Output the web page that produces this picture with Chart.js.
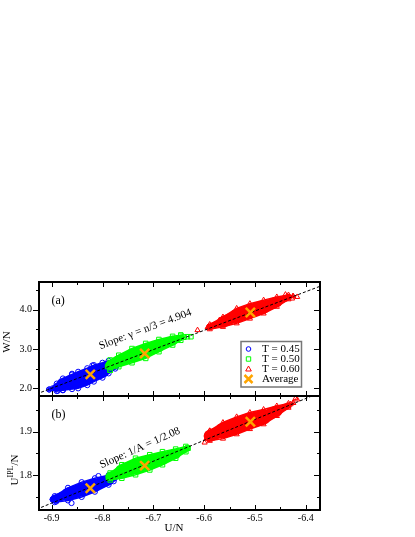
<!DOCTYPE html>
<html>
<head>
<meta charset="utf-8">
<script src="https://cdn.jsdelivr.net/npm/chart.js@4.4.1/dist/chart.umd.min.js"></script>
<style>
  html, body { margin: 0; padding: 0; background: #fff; }
  #wrap { position: relative; width: 415px; height: 537px; overflow: hidden; }
  #chart { position: absolute; left: 0; top: 0; background: #fff; }
</style>
</head>
<body>
<div id="wrap">
  <canvas id="chart" width="415" height="537"></canvas>
</div>
<script>
// axes
const xRange = [-6.925, -6.372];
const xTicks = [-6.9, -6.8, -6.7, -6.6, -6.5, -6.4];
const xMinor = [-6.85, -6.75, -6.65, -6.55, -6.45];
const wRange = [1.805, 4.70];
const wTicks = [2.0, 3.0, 4.0];
const wMinor = [2.5, 3.5, 4.5];
const uRange = [1.72, 1.982];
const uTicks = [1.8, 1.9];
const uMinor = [1.75, 1.85, 1.95];

const temps = ['T = 0.45', 'T = 0.50', 'T = 0.60'];

// averages per temperature
const avgU = [-6.824, -6.717, -6.509];
const avgW = [2.354, 2.886, 3.924];
const avgIPL = [1.770, 1.822, 1.923];

// fitted lines (end points, the lower one leaves through the top of panel b)
const fitXW = [-6.93, -6.37];
const fitW = [1.855, 4.601];
const fitXU = [-6.93, -6.388];
const fitIPL = [1.7215, 1.982];

// panel (a): upper edge, lower edge and middle of each cloud, W/N vs U/N
const wBlueX = [-6.905, -6.89, -6.878, -6.86, -6.848, -6.83, -6.817, -6.80, -6.788, -6.775];
const wBlueTop = [1.97, 2.12, 2.25, 2.35, 2.42, 2.51, 2.59, 2.65, 2.70, 2.70];
const wBlueLow = [1.97, 1.93, 1.95, 1.98, 2.00, 2.08, 2.17, 2.27, 2.38, 2.50];
const wBlueMid = [1.97, 2.025, 2.10, 2.165, 2.21, 2.295, 2.38, 2.46, 2.54, 2.60];
const wGreenX = [-6.787, -6.785, -6.768, -6.742, -6.715, -6.689, -6.662, -6.646, -6.64];
const wGreenTop = [2.60, 2.72, 2.84, 3.01, 3.14, 3.24, 3.32, 3.35, 3.30];
const wGreenLow = [2.60, 2.46, 2.55, 2.65, 2.76, 2.93, 3.10, 3.22, 3.30];
const wGreenMid = [2.60, 2.59, 2.695, 2.83, 2.95, 3.085, 3.21, 3.285, 3.30];
const wRedX = [-6.592, -6.589, -6.563, -6.536, -6.51, -6.483, -6.457, -6.434, -6.425];
const wRedTop = [3.55, 3.62, 3.81, 4.03, 4.15, 4.24, 4.32, 4.37, 4.34];
const wRedLow = [3.55, 3.50, 3.56, 3.65, 3.77, 3.90, 4.07, 4.26, 4.34];
const wRedMid = [3.55, 3.56, 3.685, 3.84, 3.96, 4.07, 4.195, 4.315, 4.34];
// stray points outside the clouds
const wBlueOutX = [-6.898, -6.888, -6.878, -6.86, -6.82];
const wBlueOutY = [2.00, 1.94, 1.957, 2.37, 2.58];
const wGreenOutX = [-6.646, -6.633, -6.626, -6.785, -6.785, -6.79];
const wGreenOutY = [3.35, 3.31, 3.31, 2.63, 2.46, 2.55];
const wRedOutX = [-6.613, -6.593, -6.57, -6.417, -6.427, -6.44];
const wRedOutY = [3.478, 3.55, 3.73, 4.32, 4.28, 4.38];

// panel (b): U_IPL/N vs U/N
const uBlueX = [-6.898, -6.894, -6.868, -6.841, -6.815, -6.788, -6.778];
const uBlueTop = [1.744, 1.752, 1.771, 1.784, 1.793, 1.800, 1.801];
const uBlueLow = [1.744, 1.738, 1.742, 1.750, 1.762, 1.778, 1.786];
const uBlueMid = [1.744, 1.745, 1.7565, 1.767, 1.7775, 1.789, 1.7935];
const uGreenX = [-6.788, -6.785, -6.762, -6.735, -6.707, -6.682, -6.656, -6.636, -6.632];
const uGreenTop = [1.795, 1.805, 1.824, 1.839, 1.847, 1.854, 1.860, 1.866, 1.862];
const uGreenLow = [1.795, 1.789, 1.793, 1.801, 1.812, 1.824, 1.839, 1.854, 1.862];
const uGreenMid = [1.795, 1.797, 1.8085, 1.82, 1.8295, 1.839, 1.8495, 1.86, 1.862];
const uRedX = [-6.595, -6.589, -6.563, -6.536, -6.51, -6.483, -6.457, -6.434, -6.425];
const uRedTop = [1.885, 1.902, 1.921, 1.934, 1.944, 1.951, 1.959, 1.965, 1.966];
const uRedLow = [1.885, 1.879, 1.884, 1.894, 1.906, 1.917, 1.936, 1.955, 1.966];
const uRedMid = [1.885, 1.8905, 1.9025, 1.914, 1.925, 1.934, 1.9475, 1.96, 1.966];
const uBlueOutX = [-6.891, -6.861, -6.808, -6.898];
const uBlueOutY = [1.7395, 1.736, 1.798, 1.745];
const uGreenOutX = [-6.788, -6.639, -6.633];
const uGreenOutY = [1.793, 1.858, 1.862];
const uRedOutX = [-6.589, -6.599, -6.417, -6.43, -6.573, -6.42];
const uRedOutY = [1.9016, 1.875, 1.974, 1.963, 1.890, 1.977];

const SERIF = "'Liberation Serif', 'DejaVu Serif', serif";
const BLUE = '#0000ff', GREEN = '#00ff00', RED = '#ff0000', ORANGE = '#ffa500';
const styles = [
    { color: BLUE, point: 'circle', radius: 2.6 },
    { color: GREEN, point: 'rect', radius: 3.2 },
    { color: RED, point: 'triangle', radius: 3.0 }
];

function pts(xs, ys) {
    return xs.map((x, i) => ({ x: x, y: ys[i] }));
}

function edge(xs, ys, s, yId) {
    return {
        yAxisID: yId, data: pts(xs, ys), showLine: true, fill: false, tension: 0,
        borderColor: s.color, borderWidth: 1.5,
        pointStyle: s.point, pointRadius: s.radius, pointBorderWidth: 1,
        pointBorderColor: s.color, pointBackgroundColor: 'rgba(0,0,0,0)'
    };
}

// stroke width of each middle segment = cloud height there, measured with the y scale
function bodyWidth(sc, top, low, yId) {
    const ch = sc.chart;
    if (!ch || !ch.scales || !ch.scales[yId] || !sc.p0 || !sc.p1) return 6;
    const ys = ch.scales[yId];
    const h = i => Math.abs(ys.getPixelForValue(top[i]) - ys.getPixelForValue(low[i]));
    const v = (h(sc.p0DataIndex) + h(sc.p1DataIndex)) / 2;
    const dx = sc.p1.x - sc.p0.x, dy = sc.p1.y - sc.p0.y;
    const len = Math.hypot(dx, dy) || 1;
    return Math.max(1.5, v * Math.abs(dx) / len);
}

function body(xs, mid, top, low, s, yId) {
    return {
        yAxisID: yId, data: pts(xs, mid), showLine: true, fill: false, tension: 0,
        borderColor: s.color, borderWidth: 6, borderCapStyle: 'round', borderJoinStyle: 'round',
        pointRadius: 0,
        segment: { borderWidth: sc => bodyWidth(sc, top, low, yId) }
    };
}

function strays(xs, ys, s, yId) {
    return {
        yAxisID: yId, data: pts(xs, ys), showLine: false,
        pointStyle: s.point, pointRadius: s.radius, pointBorderWidth: 1,
        pointBorderColor: s.color, pointBackgroundColor: 'rgba(0,0,0,0)'
    };
}

function marks(avgY, fitX, fitY, yId) {
    return [
        {
            yAxisID: yId, data: pts(avgU, avgY), showLine: false, pointStyle: 'crossRot',
            pointRadius: 6.5, pointBorderWidth: 2.5, pointBorderColor: ORANGE
        },
        {
            yAxisID: yId, data: pts(fitX, fitY), showLine: true, borderColor: '#000', borderWidth: 1,
            borderDash: [3, 2], pointRadius: 0, tension: 0, fill: false
        }
    ];
}

// clouds: [[x, top, low, mid], ...] in T order; outs: [[x, y], ...]
function cloudSets(clouds, outs, yId) {
    const sets = [];
    for (let i = 2; i >= 0; i--) {
        const c = clouds[i];
        sets.push(strays(outs[i][0], outs[i][1], styles[i], yId));
        sets.push(edge(c[0], c[1], styles[i], yId));
        sets.push(edge(c[0], c[2], styles[i], yId));
        sets.push(body(c[0], c[3], c[1], c[2], styles[i], yId));
    }
    return sets;
}

// the two panels share one chart area, split where each y range ends
function panels(chart) {
    const a = chart.chartArea, yW = chart.scales.y, yU = chart.scales.yU;
    return [
        { top: a.top, bottom: yW.getPixelForValue(wRange[0]), scale: yW, major: wTicks, minor: wMinor },
        { top: yU.getPixelForValue(uRange[1]), bottom: a.bottom, scale: yU, major: uTicks, minor: uMinor }
    ];
}

// frames with ticks: outward on the left, inward elsewhere
const frameTicks = {
    id: 'frameTicks',
    afterDatasetsDraw(chart) {
        const { ctx, chartArea: a } = chart;
        const sx = chart.scales.x;
        ctx.save();
        ctx.strokeStyle = '#000';
        const seg = (x1, y1, x2, y2) => {
            ctx.beginPath(); ctx.moveTo(x1, y1); ctx.lineTo(x2, y2); ctx.stroke();
        };
        panels(chart).forEach(p => {
            ctx.lineWidth = 1;
            const xt = (list, len) => list.forEach(v => {
                const px = Math.round(sx.getPixelForValue(v)) + 0.5;
                seg(px, p.bottom, px, p.bottom - len);
                seg(px, p.top, px, p.top + len);
            });
            const yt = (list, len) => list.forEach(v => {
                const py = Math.round(p.scale.getPixelForValue(v)) + 0.5;
                seg(a.left, py, a.left - len, py);
                seg(a.right, py, a.right - len, py);
            });
            xt(xTicks, 5); xt(xMinor, 3);
            yt(p.major, 6); yt(p.minor, 3);
            ctx.lineWidth = 2;
            ctx.strokeRect(a.left, p.top, a.right - a.left, p.bottom - p.top);
        });
        ctx.restore();
    }
};

// free text: tick labels of panel b, panel letters, slope notes, axis titles
const notes = {
    id: 'notes',
    afterDraw(chart) {
        const { ctx, chartArea: a } = chart;
        const sx = chart.scales.x, yW = chart.scales.y, yU = chart.scales.yU;
        const pn = panels(chart);
        ctx.save();
        ctx.fillStyle = '#000';

        ctx.font = '10px ' + SERIF;
        ctx.textAlign = 'right';
        ctx.textBaseline = 'middle';
        uTicks.forEach(v => ctx.fillText(v.toFixed(1), a.left - 7, yU.getPixelForValue(v)));

        ctx.textBaseline = 'alphabetic';
        ctx.textAlign = 'left';
        ctx.font = '12px ' + SERIF;
        ctx.fillText('(a)', a.left + 12.5, pn[0].top + 22);
        ctx.fillText('(b)', a.left + 12.5, pn[1].top + 22);

        const slope = (text, x, y, scale, deg) => {
            ctx.save();
            ctx.translate(sx.getPixelForValue(x), scale.getPixelForValue(y));
            ctx.rotate(deg * Math.PI / 180);
            ctx.font = '11px ' + SERIF;
            ctx.fillText(text, 0, 0);
            ctx.restore();
        };
        slope('Slope: \u03b3 = n/3 = 4.904', -6.804, 2.995, yW, -20.5);
        slope('Slope: 1/A = 1/2.08', -6.802, 1.816, yU, -24);

        // rotated y titles, the second one with a superscript
        const yTitle = (parts, x, y) => {
            ctx.save();
            ctx.translate(x, y);
            ctx.rotate(-Math.PI / 2);
            let total = 0;
            const w = parts.map(p => {
                ctx.font = p.size + 'px ' + SERIF;
                const m = ctx.measureText(p.text).width;
                total += m;
                return m;
            });
            let cx = -total / 2;
            parts.forEach((p, i) => {
                ctx.font = p.size + 'px ' + SERIF;
                ctx.fillText(p.text, cx, -(p.rise || 0));
                cx += w[i];
            });
            ctx.restore();
        };
        yTitle([{ text: 'W/N', size: 11 }], 9.5, (pn[0].top + pn[0].bottom) / 2 + 3);
        yTitle([{ text: 'U', size: 11 }, { text: 'IPL', size: 8, rise: 5 }, { text: '/N', size: 11 }],
            18, (pn[1].top + pn[1].bottom) / 2 + 17);

        ctx.font = '11px ' + SERIF;
        ctx.textAlign = 'center';
        ctx.fillText('U/N', (a.left + a.right) / 2 - 5.5, a.bottom + 21);
        ctx.restore();
    }
};

// legend box inside panel (a)
const keyBox = {
    id: 'keyBox',
    afterDraw(chart) {
        const { ctx, chartArea: a } = chart;
        const left = a.right - 79, top = a.top + 59.5, w = 60.5, h = 45.5;
        ctx.save();
        ctx.fillStyle = '#fff';
        ctx.fillRect(left, top, w, h);
        ctx.strokeStyle = '#777';
        ctx.lineWidth = 1.5;
        ctx.strokeRect(left, top, w, h);
        ctx.font = '11px ' + SERIF;
        ctx.textBaseline = 'middle';
        ctx.textAlign = 'left';
        ctx.lineWidth = 1;
        const sxp = left + 7.5, tx = left + 21;
        temps.forEach((label, i) => {
            const y = top + 7.5 + i * 10;
            const s = styles[i];
            ctx.strokeStyle = s.color;
            ctx.beginPath();
            if (s.point === 'circle') {
                ctx.arc(sxp, y, 2.3, 0, Math.PI * 2);
            } else if (s.point === 'rect') {
                ctx.rect(sxp - 2.2, y - 2.2, 4.4, 4.4);
            } else {
                ctx.moveTo(sxp, y - 3); ctx.lineTo(sxp + 2.8, y + 2); ctx.lineTo(sxp - 2.8, y + 2); ctx.closePath();
            }
            ctx.stroke();
            ctx.fillStyle = '#000';
            ctx.fillText(label, tx, y + 0.5);
        });
        const ay = top + 37.5;
        ctx.strokeStyle = ORANGE;
        ctx.lineWidth = 2.5;
        ctx.beginPath();
        ctx.moveTo(sxp - 4, ay - 4); ctx.lineTo(sxp + 4, ay + 4);
        ctx.moveTo(sxp + 4, ay - 4); ctx.lineTo(sxp - 4, ay + 4);
        ctx.stroke();
        ctx.fillStyle = '#000';
        ctx.fillText('Average', tx, ay + 0.5);
        ctx.restore();
    }
};

// each y scale spans both panels; its own range fills only its half
const wSpan = wRange[1] - wRange[0];
const uSpan = uRange[1] - uRange[0];

new Chart(document.getElementById('chart'), {
    type: 'scatter',
    data: {
        // first dataset is painted last, so averages and fit lines come first
        datasets: [].concat(
            marks(avgW, fitXW, fitW, 'y'),
            marks(avgIPL, fitXU, fitIPL, 'yU'),
            cloudSets([[wBlueX, wBlueTop, wBlueLow, wBlueMid], [wGreenX, wGreenTop, wGreenLow, wGreenMid], [wRedX, wRedTop, wRedLow, wRedMid]],
                [[wBlueOutX, wBlueOutY], [wGreenOutX, wGreenOutY], [wRedOutX, wRedOutY]], 'y'),
            cloudSets([[uBlueX, uBlueTop, uBlueLow, uBlueMid], [uGreenX, uGreenTop, uGreenLow, uGreenMid], [uRedX, uRedTop, uRedLow, uRedMid]],
                [[uBlueOutX, uBlueOutY], [uGreenOutX, uGreenOutY], [uRedOutX, uRedOutY]], 'yU')
        )
    },
    options: {
        responsive: false,
        animation: false,
        events: [],
        layout: { padding: { left: 0, top: 282, right: 95, bottom: 0 } },
        plugins: { legend: { display: false }, tooltip: { enabled: false } },
        scales: {
            x: {
                type: 'linear', position: 'bottom', min: xRange[0], max: xRange[1],
                afterBuildTicks: s => { s.ticks = xTicks.map(v => ({ value: v })); },
                afterFit: s => { s.height = 27; },
                ticks: { callback: v => Number(v).toFixed(1), color: '#000', padding: 2.5, autoSkip: false, maxRotation: 0, font: { family: SERIF, size: 10 } },
                grid: { display: false, drawTicks: false },
                border: { display: false }
            },
            y: {
                type: 'linear', position: 'left', min: wRange[0] - wSpan, max: wRange[1],
                afterBuildTicks: s => { s.ticks = wTicks.map(v => ({ value: v })); },
                afterFit: s => { s.width = 39; },
                ticks: { callback: v => Number(v).toFixed(1), color: '#000', padding: 7, font: { family: SERIF, size: 10 } },
                grid: { display: false, drawTicks: false },
                border: { display: false }
            },
            yU: {
                type: 'linear', position: 'left', display: false,
                min: uRange[0], max: uRange[1] + uSpan
            }
        }
    },
    plugins: [frameTicks, notes, keyBox]
});
</script>
</body>
</html>
